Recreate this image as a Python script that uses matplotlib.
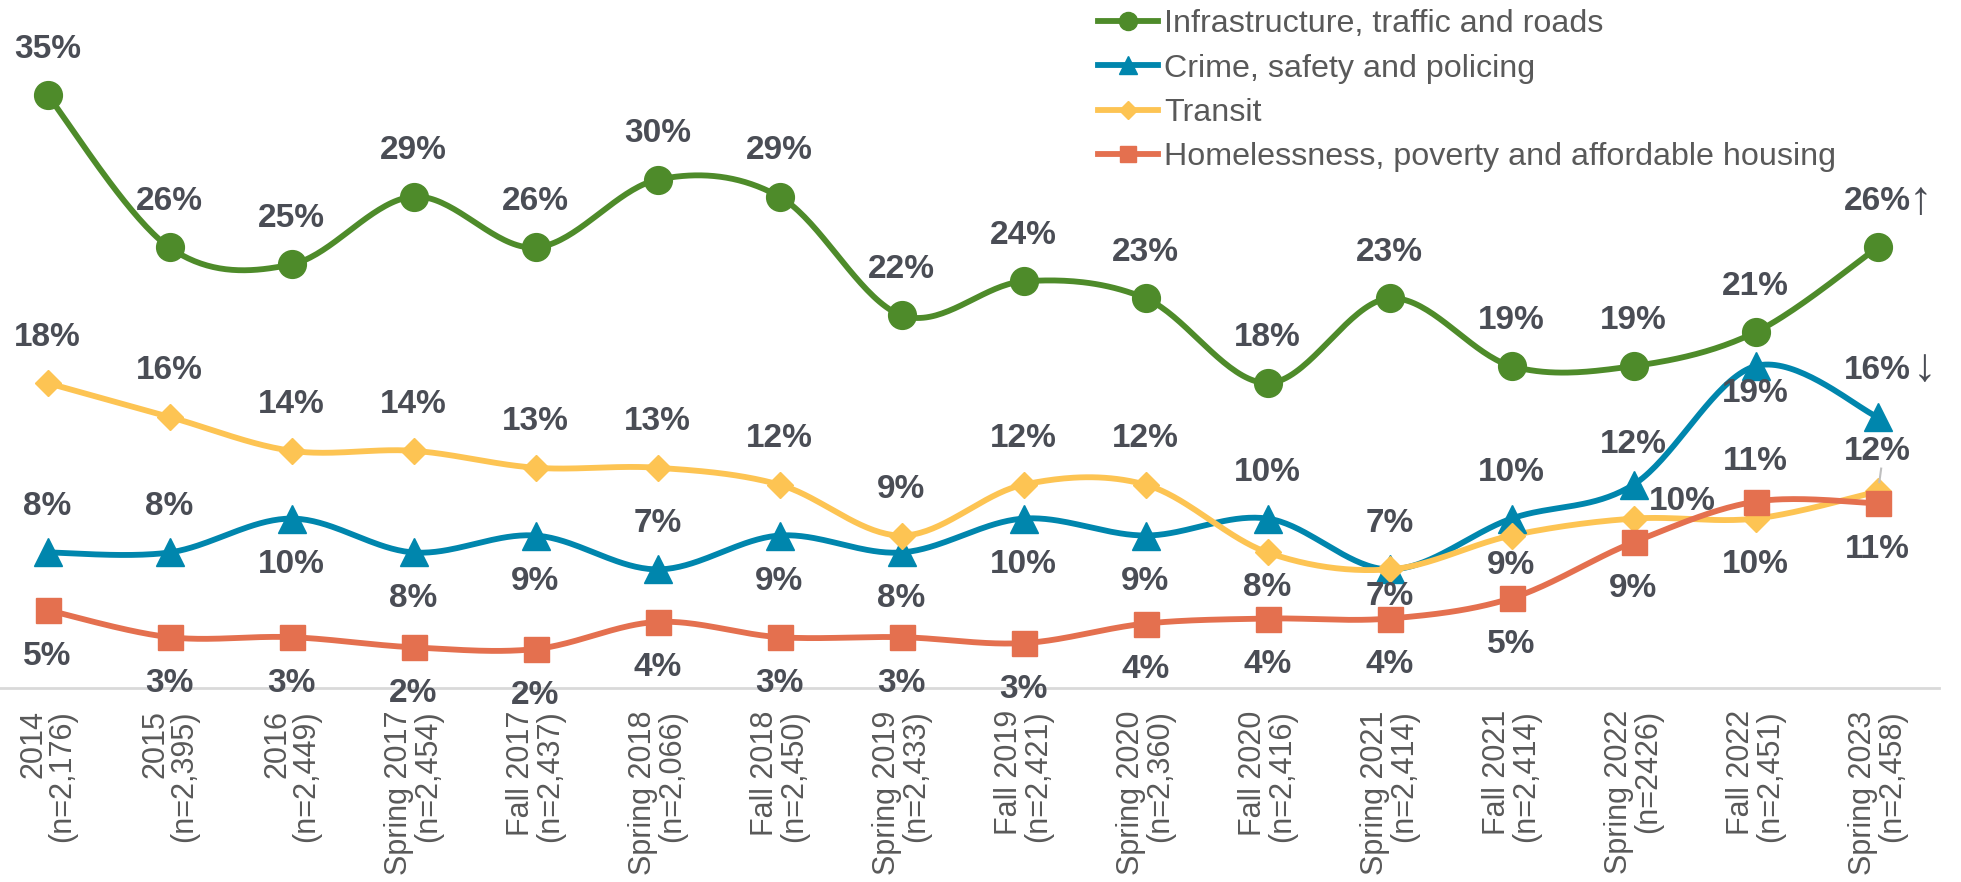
import numpy as np
import matplotlib.pyplot as plt

plt.rcParams['font.family'] = ['Liberation Sans', 'DejaVu Sans']

waves = ['2014\n(n=2,176)', '2015\n(n=2,395)', '2016\n(n=2,449)',
         'Spring 2017\n(n=2,454)', 'Fall 2017\n(n=2,437)', 'Spring 2018\n(n=2,066)',
         'Fall 2018\n(n=2,450)', 'Spring 2019\n(n=2,433)', 'Fall 2019\n(n=2,421)',
         'Spring 2020\n(n=2,360)', 'Fall 2020\n(n=2,416)', 'Spring 2021\n(n=2,414)',
         'Fall 2021\n(n=2,414)', 'Spring 2022\n(n=2426)', 'Fall 2022\n(n=2,451)',
         'Spring 2023\n(n=2,458)']

infrastructure = [35, 26, 25, 29, 26, 30, 29, 22, 24, 23, 18, 23, 19, 19, 21, 26]
crime = [8, 8, 10, 8, 9, 7, 9, 8, 10, 9, 10, 7, 10, 12, 19, 16]
transit = [18, 16, 14, 14, 13, 13, 12, 9, 12, 12, 8, 7, 9, 10, 10, 11.6]
homeless = [4.6, 3, 3, 2.4, 2.3, 3.9, 3, 3, 2.65, 3.8, 4.1, 4.1, 5.3, 8.6, 11, 10.9]

infrastructure_lbl = ['35%', '26%', '25%', '29%', '26%', '30%', '29%', '22%', '24%', '23%',
                      '18%', '23%', '19%', '19%', '21%', '26%']
crime_lbl = ['8%', '8%', '10%', '8%', '9%', '7%', '9%', '8%', '10%', '9%', '10%', '7%',
             '10%', '12%', '19%', '16%']
transit_lbl = ['18%', '16%', '14%', '14%', '13%', '13%', '12%', '9%', '12%', '12%', '8%',
               '7%', '9%', '10%', '10%', '12%']
homeless_lbl = ['5%', '3%', '3%', '2%', '2%', '4%', '3%', '3%', '3%', '4%', '4%', '4%',
                '5%', '9%', '11%', '11%']

names = ['Infrastructure, traffic and roads', 'Crime, safety and policing', 'Transit',
         'Homelessness, poverty and affordable housing']

# label offsets in pixels (dx, dy), up is positive
A = (0, 46)
B = (0, -46)
infra_off = [A] * 16
crime_off = [A, A, B, B, B, A, B, B, B, B, A, (0, -27), A, (0, 40), (0, -27), A]
transit_off = [A] * 10 + [(0, -35), A, (0, -30), (49, 17), B, (0, 40)]
homeless_off = [B] * 14 + [(0, 40), B]

colors = ['#4E8B2A', '#0086AD', '#FDC453', '#E4704F']
markers = ['o', '^', 'D', 's']
msizes = [20, 20, 13.5, 18]
label_color = '#4A4D55'
text_color = '#595959'


def smooth(x, y, n=40):
    # Excel-like smoothed line (Catmull-Rom bezier)
    p = np.column_stack([x, y]).astype(float)
    p = np.vstack([p[0], p, p[-1]])
    t = np.linspace(0, 1, n)[:, None]
    out = []
    for i in range(1, len(p) - 2):
        p0, p3 = p[i], p[i + 1]
        c1 = p0 + (p[i + 1] - p[i - 1]) / 6
        c2 = p3 - (p[i + 2] - p[i]) / 6
        seg = (1 - t) ** 3 * p0 + 3 * (1 - t) ** 2 * t * c1 + 3 * (1 - t) * t ** 2 * c2 + t ** 3 * p3
        out.append(seg if i == 1 else seg[1:])
    out = np.vstack(out)
    return out[:, 0], out[:, 1]


fig = plt.figure(figsize=(19.61, 8.82), dpi=100)
ax = fig.add_axes([-13.5 / 1961, 194 / 882, 1952 / 1961, 677.7 / 882])

x = np.arange(len(waves))
series = [infrastructure, crime, transit, homeless]
labels = [infrastructure_lbl, crime_lbl, transit_lbl, homeless_lbl]
offsets = [infra_off, crime_off, transit_off, homeless_off]

handles = []
for vals, c, m, ms, name in zip(series, colors, markers, msizes, names):
    sx, sy = smooth(x, vals)
    ax.plot(sx, sy, color=c, lw=4.2, solid_capstyle='round', zorder=2)
    ax.plot(x, vals, linestyle='none', marker=m, ms=ms, color=c, mec=c, zorder=3)
    h, = ax.plot([], [], color=c, lw=4.2, marker=m, ms=ms, mec=c)
    handles.append(h)

for vals, lbls, offs in zip(series, labels, offsets):
    for xi, v, t, o in zip(x, vals, lbls, offs):
        ax.annotate(t, (xi, v), xytext=o, textcoords='offset pixels', ha='center', va='center',
                    fontsize=24, fontweight='bold', color=label_color, zorder=5)

# small leader line for the last transit label
ax.plot([x[-1] + 0.015, x[-1] + 0.03], [transit[-1] + 0.55, transit[-1] + 1.35],
        color='#BFBFBF', lw=1.5, zorder=4)

# trend arrows on the last wave
ax.annotate('\u2191', (x[-1], infrastructure[-1]), xytext=(31, 45), textcoords='offset pixels',
            ha='left', va='center', fontsize=34, color=label_color, zorder=5)
ax.annotate('\u2193', (x[-1], crime[-1]), xytext=(35, 48), textcoords='offset pixels',
            ha='left', va='center', fontsize=34, color=label_color, zorder=5)

ax.set_xlim(-0.5, len(waves) - 0.5)
ax.set_ylim(0, 40)
ax.set_yticks([])
ax.set_xticks(x)
ax.set_xticklabels(waves, rotation=90, ha='center', va='top', multialignment='right',
                   linespacing=0.95, fontsize=22, color=text_color)
ax.tick_params(axis='x', length=0, pad=16)
for s in ['top', 'right', 'left']:
    ax.spines[s].set_visible(False)
ax.spines['bottom'].set_color('#D9D9D9')
ax.spines['bottom'].set_linewidth(2)

leg = fig.legend(handles, names, loc='upper left', bbox_to_anchor=(1098 / 1961, 1 - 9 / 882),
                 frameon=False, fontsize=23.2, handlelength=1.85, handletextpad=0.2,
                 labelspacing=0.45, borderpad=0, borderaxespad=0, markerscale=0.65)
for t in leg.get_texts():
    t.set_color(text_color)

fig.savefig('out.png', dpi=100, facecolor='white')
